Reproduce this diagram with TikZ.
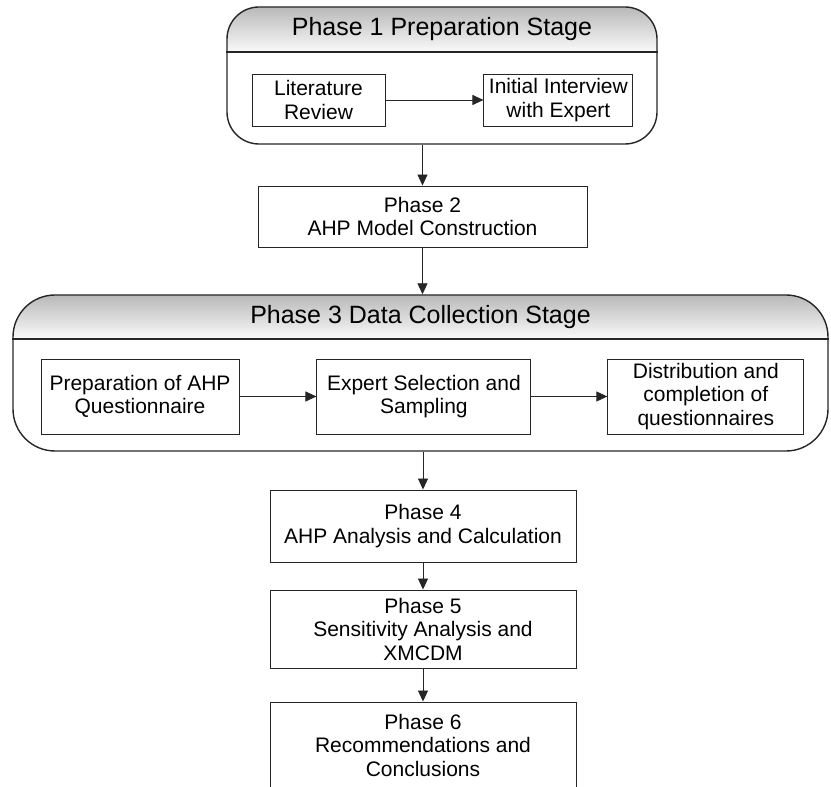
\documentclass[tikz,border=0pt]{standalone}
\usepackage{fontspec}
\setmainfont{Liberation Sans}
\usetikzlibrary{positioning,arrows.meta}
\tikzset{
rectnode/.style = {rectangle, draw=black!85, line width=0.9pt, align=center, inner sep=2pt, font=\fontsize{21}{23.5}\selectfont},
stagenode/.style = {rectangle, draw=black!85, line width=1.4pt, rounded corners=#1},
stagenode/.default = 32pt, % corner radius of the stage frame
headnode/.style = {font=\fontsize{25}{28}\selectfont, inner sep=0pt},
flow/.style = {-{Triangle[width=10pt,length=11pt]}, line width=0.9pt, draw=black!85}
}
\tikzset{headfill/.style={top color=gray!55, bottom color=gray!4}}

\begin{document}
\begin{tikzpicture}[x=1pt,y=1pt]
    \useasboundingbox (0,0) rectangle (831,787);
    % Phase 1
    \shade[headfill] (227,735) -- (227,748) arc[start angle=180,end angle=90,radius=32]
        -- (625,780) arc[start angle=90,end angle=0,radius=32] -- (657,735) -- cycle;
    \node [stagenode, minimum width=430pt, minimum height=137pt] (s1) at (442,711.5) {};
    \coordinate (h1) at (442,735);
    \draw [line width=1.4pt, black!85] (s1.west |- h1) -- (s1.east |- h1);
    \node [headnode] (t1) at (442,757.5) {Phase 1 Preparation Stage};
    \node [rectnode, minimum width=133pt, minimum height=52pt] (lit) at (318.5,687) {Literature\\Review};
    \node [rectnode, minimum width=149pt, minimum height=52pt, right=98pt of lit] (intv) {Initial Interview\\with Expert};
    \draw [flow] (lit) -- (intv);
    % Phase 2
    \node [rectnode, minimum width=329pt, minimum height=61pt] (p2) at (422.5,570.5) {Phase 2\\AHP Model Construction};
    \draw [flow] (p2.north |- s1.south) -- (p2.north);
    % Phase 3
    \shade[headfill] (13,448) -- (13,450) arc[start angle=180,end angle=90,radius=42]
        -- (786,492) arc[start angle=90,end angle=0,radius=42] -- (828,448) -- cycle;
    \node [stagenode=42pt, minimum width=815pt, minimum height=156pt] (s3) at (420.5,414) {};
    \coordinate (h3) at (420.5,448);
    \draw [line width=1.4pt, black!85] (s3.west |- h3) -- (s3.east |- h3);
    \node [headnode] (t3) at (420.5,470) {Phase 3 Data Collection Stage};
    \draw [flow] (p2.south) -- (p2.south |- s3.north);
    \node [rectnode, minimum width=198pt, minimum height=75pt] (prep) at (140,390.5) {Preparation of AHP\\Questionnaire};
    \node [rectnode, minimum width=214pt, minimum height=75pt, right=77pt of prep] (expert) {Expert Selection and\\Sampling};
    \node [rectnode, minimum width=196pt, minimum height=75pt, right=76pt of expert] (dist) {Distribution and\\completion of\\questionnaires};
    \draw [flow] (prep) -- (expert);
    \draw [flow] (expert) -- (dist);
    % Phase 4 to 6
    \node [rectnode, minimum width=306pt, minimum height=72pt] (p4) at (423,261) {Phase 4\\AHP Analysis and Calculation};
    \node [rectnode, minimum width=306pt, minimum height=78pt] (p5) at (423,158) {Phase 5\\Sensitivity Analysis and\\XMCDM};
    \node [rectnode, minimum width=306pt, minimum height=86pt] (p6) at (423,42) {Phase 6\\Recommendations and\\Conclusions};
    \draw [flow] (p4.north |- s3.south) -- (p4.north);
    \draw [flow] (p4) -- (p5);
    \draw [flow] (p5) -- (p6);
\end{tikzpicture}
\end{document}
